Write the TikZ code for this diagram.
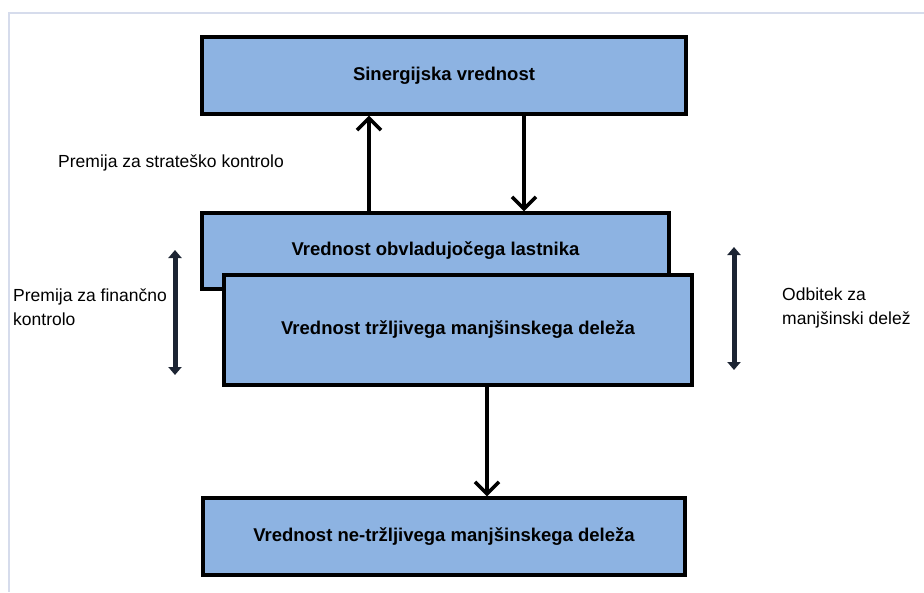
\documentclass[tikz,border=0pt]{standalone}
\usepackage{fontspec}
\setmainfont{Liberation Sans}
\usetikzlibrary{arrows.meta}

\definecolor{boxblue}{HTML}{8DB3E2}
\definecolor{framegray}{HTML}{D6DCEC}
\definecolor{dblnavy}{HTML}{1C2433}

\tikzset{
    valbox/.style={draw,
        line width=3.2pt,
        fill=boxblue,
        align=center,
        inner sep=0pt,
        font=\fontsize{18.5}{22}\selectfont\bfseries
    },
    lbl/.style={
        align=left,
        anchor=west,
        inner sep=0pt,
        font=\fontsize{17.5}{24}\selectfont
    },
    arr/.style={line width=3.6pt,
        -{Straight Barb[length=12pt,width=24pt]}
    },
    dbl/.style={line width=5pt, draw=dblnavy,
        {Triangle[length=8pt,width=13pt]}-{Triangle[length=8pt,width=13pt]}
    }
}

\begin{document}
\begin{tikzpicture}[x=1pt,y=1pt]
\useasboundingbox (0,0) rectangle (924,-592);

% frame
\draw [framegray, line width=1.5pt] (924,-13) -- (9,-13) -- (9,-592);

% Sinergijska vrednost
\node (siner) [valbox,
    minimum width=484,
    minimum height=77,
    xshift=444,
    yshift=-75.5
] {\raisebox{-3pt}{Sinergijska vrednost}};

% Vrednost obvladujocega lastnika
\node (obvl) [valbox,
    minimum width=467,
    minimum height=76,
    xshift=435.5,
    yshift=-251
] {\raisebox{-2pt}{Vrednost obvladujočega lastnika}};

% Vrednost trzljivega
\node (trz) [valbox,
    minimum width=468,
    minimum height=110,
    xshift=458,
    yshift=-330
] {\raisebox{-2pt}{Vrednost tržljivega manjšinskega deleža}};

% Vrednost ne-trzljivega
\node (netrz) [valbox,
    minimum width=482,
    minimum height=77,
    xshift=444,
    yshift=-536.5
] {\raisebox{-2pt}{Vrednost ne-tržljivega manjšinskega deleža}};

%-------------------------------------
\node (strat) [lbl,
    xshift=58,
    yshift=-163
] {Premija za strateško kontrolo};

\node (fin) [lbl,
    xshift=13,
    yshift=-307
] {Premija za finančno\\kontrolo};

\node (odb) [lbl,
    xshift=782,
    yshift=-308
] {Odbitek za\\manjšinski delež};

\coordinate (fintop) at (175,-250);
\coordinate (finbot) at (175,-375);
\coordinate (odbtop) at (734,-247);
\coordinate (odbbot) at (734,-370);

% arrows
\draw [arr]([xshift=-66.5]obvl.north) -- ([xshift=-66.5]obvl.north |- siner.south);
\draw [arr]([xshift=80]siner.south) -- ([xshift=80]siner.south |- obvl.north);
\draw [arr]([xshift=29]trz.south) -- ([xshift=29]trz.south |- netrz.north);

\draw [dbl](fintop) -- (finbot);
\draw [dbl](odbtop) -- (odbbot);

\end{tikzpicture}
\end{document}
